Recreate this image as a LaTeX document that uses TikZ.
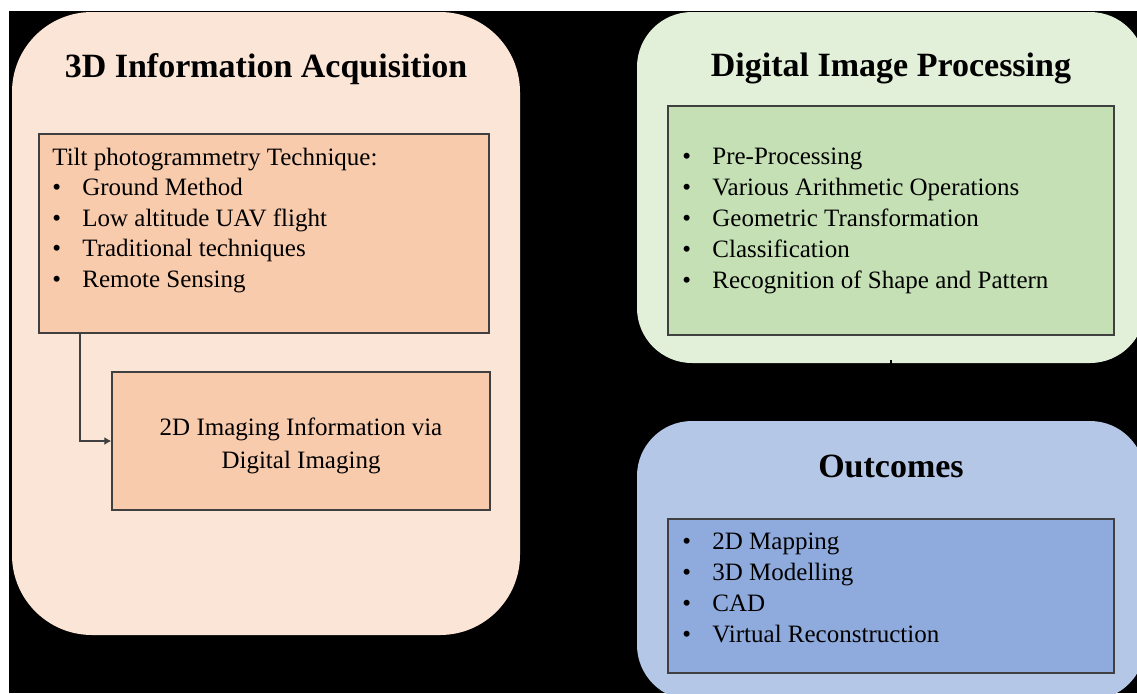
\documentclass[tikz,border=0pt]{standalone}
\usepackage{fontspec}
\setmainfont{Liberation Serif}
\usetikzlibrary{arrows.meta}

\definecolor{peachback}{HTML}{FBE5D6}
\definecolor{peachbox}{HTML}{F8CBAD}
\definecolor{greenback}{HTML}{E2F0D9}
\definecolor{greenbox}{HTML}{C5E0B4}
\definecolor{blueback}{HTML}{B4C7E7}
\definecolor{bluebox}{HTML}{8FAADC}
\definecolor{boxline}{HTML}{404040}

\newcommand{\blt}{\makebox[15pt][l]{\textbullet}}

\tikzset{
  panel/.style={rounded corners=27.5pt, inner sep=0pt},
  headline/.style={anchor=base, inner sep=0pt, font=\fontsize{17}{20}\selectfont\bfseries},
  inbox/.style={draw=boxline, line width=0.7pt, inner sep=0pt},
  bullets/.style={anchor=base west, inner sep=0pt, font=\fontsize{12.5}{15.5}\selectfont},
}

\begin{document}
\begin{tikzpicture}[x=0.5pt, y=-0.5pt]
                \clip (0, 0) rectangle (1137, 693);
                \fill [white] (0, 0) rectangle (1137, 693);
                \fill [black] (9, 11) rectangle (1137, 693);
                % left panel
                \node [panel, fill=peachback, rounded corners=40pt, minimum width=254pt, minimum height=311.5pt] (acq) at (266, 323.5) {};
                \node [headline] (acqtitle) at (266, 77) {3D Information Acquisition};
                \node [inbox, fill=peachbox, minimum width=225pt, minimum height=99.5pt] (tilt) at (264, 233.5) {};
                \node [bullets, font=\fontsize{12.5}{15.25}\selectfont] (tiltlist) at (52, 165) {\begin{tabular}[t]{@{}l@{}}
                    Tilt photogrammetry Technique:\\
                    \blt Ground Method\\
                    \blt Low altitude UAV flight\\
                    \blt Traditional techniques\\
                    \blt Remote Sensing
                \end{tabular}};
                \node [inbox, fill=peachbox, minimum width=189pt, minimum height=69pt] (imaging) at (301, 441) {};
                \node [align=center, inner sep=0pt, font=\fontsize{12.5}{16.5}\selectfont] (imagingtext) at (301, 446) {2D Imaging Information via\\Digital Imaging};
                \coordinate (bend) at (80, 441);
                \draw [boxline, line width=0.6pt, -{Latex[length=3.5pt, width=4pt]}] (bend |- tilt.south) -- (bend) -- (imaging.west);
                % top right panel
                \node [panel, fill=greenback, minimum width=254pt, minimum height=175.5pt] (dip) at (891, 187.5) {};
                \node [headline] (diptitle) at (891, 76) {Digital Image Processing};
                \node [inbox, fill=greenbox, minimum width=223pt, minimum height=114.5pt] (steps) at (891, 220.5) {};
                \node [bullets] (steplist) at (682, 164) {\begin{tabular}[t]{@{}l@{}}
                    \blt Pre-Processing\\
                    \blt Various Arithmetic Operations\\
                    \blt Geometric Transformation\\
                    \blt Classification\\
                    \blt Recognition of Shape and Pattern
                \end{tabular}};
                % bottom right panel
                \node [panel, fill=blueback, minimum width=254pt, minimum height=139.5pt] (outc) at (891, 560.5) {};
                \draw [black, line width=1pt, shorten <=-1.5pt] (dip.south) -- (outc.north);
                \node [headline] (outctitle) at (891, 477) {Outcomes};
                \node [inbox, fill=bluebox, minimum width=223pt, minimum height=77pt] (results) at (891, 596) {};
                \node [bullets] (resultlist) at (682, 549) {\begin{tabular}[t]{@{}l@{}}
                    \blt 2D Mapping\\
                    \blt 3D Modelling\\
                    \blt CAD\\
                    \blt Virtual Reconstruction
                \end{tabular}};
            \end{tikzpicture}
\end{document}
